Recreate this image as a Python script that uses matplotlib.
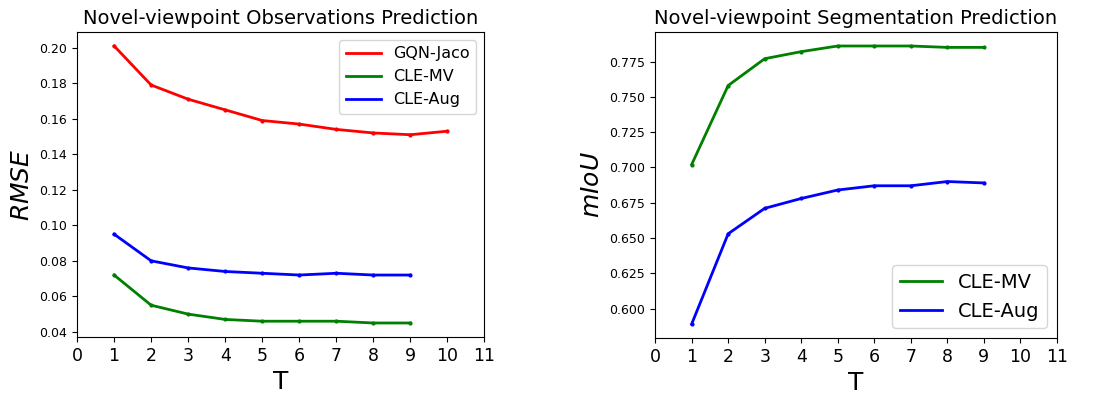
import matplotlib
matplotlib.use('Agg')
from matplotlib import pyplot as plt

T_gqn = [1, 2, 3, 4, 5, 6, 7, 8, 9, 10]
T_cle = [1, 2, 3, 4, 5, 6, 7, 8, 9]

rmse_gqn = [0.201, 0.179, 0.171, 0.165, 0.159, 0.157, 0.154, 0.152, 0.151, 0.153]
rmse_mv = [0.072, 0.055, 0.050, 0.047, 0.046, 0.046, 0.046, 0.045, 0.045]
rmse_aug = [0.095, 0.080, 0.076, 0.074, 0.073, 0.072, 0.073, 0.072, 0.072]

miou_mv = [0.702, 0.758, 0.777, 0.782, 0.786, 0.786, 0.786, 0.785, 0.785]
miou_aug = [0.589, 0.653, 0.671, 0.678, 0.684, 0.687, 0.687, 0.690, 0.689]

xticks = list(range(0, 12))

fig = plt.figure(figsize=(11.01, 4.01), dpi=100)
ax1 = fig.add_axes([0.070, 0.160, 0.370, 0.760])
ax2 = fig.add_axes([0.595, 0.157, 0.365, 0.763])

# left: observations
ax1.plot(T_gqn, rmse_gqn, color='r', marker='.', markersize=4, linewidth=2, label='GQN-Jaco')
ax1.plot(T_cle, rmse_mv, color='g', marker='.', markersize=4, linewidth=2, label='CLE-MV')
ax1.plot(T_cle, rmse_aug, color='b', marker='.', markersize=4, linewidth=2, label='CLE-Aug')
ax1.set_xlim(0, 11)
ax1.set_xticks(xticks)
ax1.tick_params(axis='x', labelsize=12.5)
ax1.tick_params(axis='y', labelsize=9)
ax1.set_title('Novel-viewpoint Observations Prediction', fontsize=14)
ax1.set_xlabel('T', fontsize=18)
ax1.set_ylabel('$RMSE$', fontsize=18)
leg1 = ax1.legend(loc='upper right', fontsize=11.5, handlelength=2.2)

# right: segmentation
ax2.plot(T_cle, miou_mv, color='g', marker='.', markersize=4, linewidth=2, label='CLE-MV')
ax2.plot(T_cle, miou_aug, color='b', marker='.', markersize=4, linewidth=2, label='CLE-Aug')
ax2.set_xlim(0, 11)
ax2.set_xticks(xticks)
ax2.tick_params(axis='x', labelsize=12.5)
ax2.tick_params(axis='y', labelsize=9)
ax2.set_title('Novel-viewpoint Segmentation Prediction', fontsize=14)
ax2.set_xlabel('T', fontsize=18)
ax2.set_ylabel('$mIoU$', fontsize=18)
leg2 = ax2.legend(loc='lower right', fontsize=14, handlelength=2.2)

# legend shows plain lines only
for leg in (leg1, leg2):
    for h in leg.legend_handles:
        h.set_marker('')

fig.savefig('out.png', dpi=100)
